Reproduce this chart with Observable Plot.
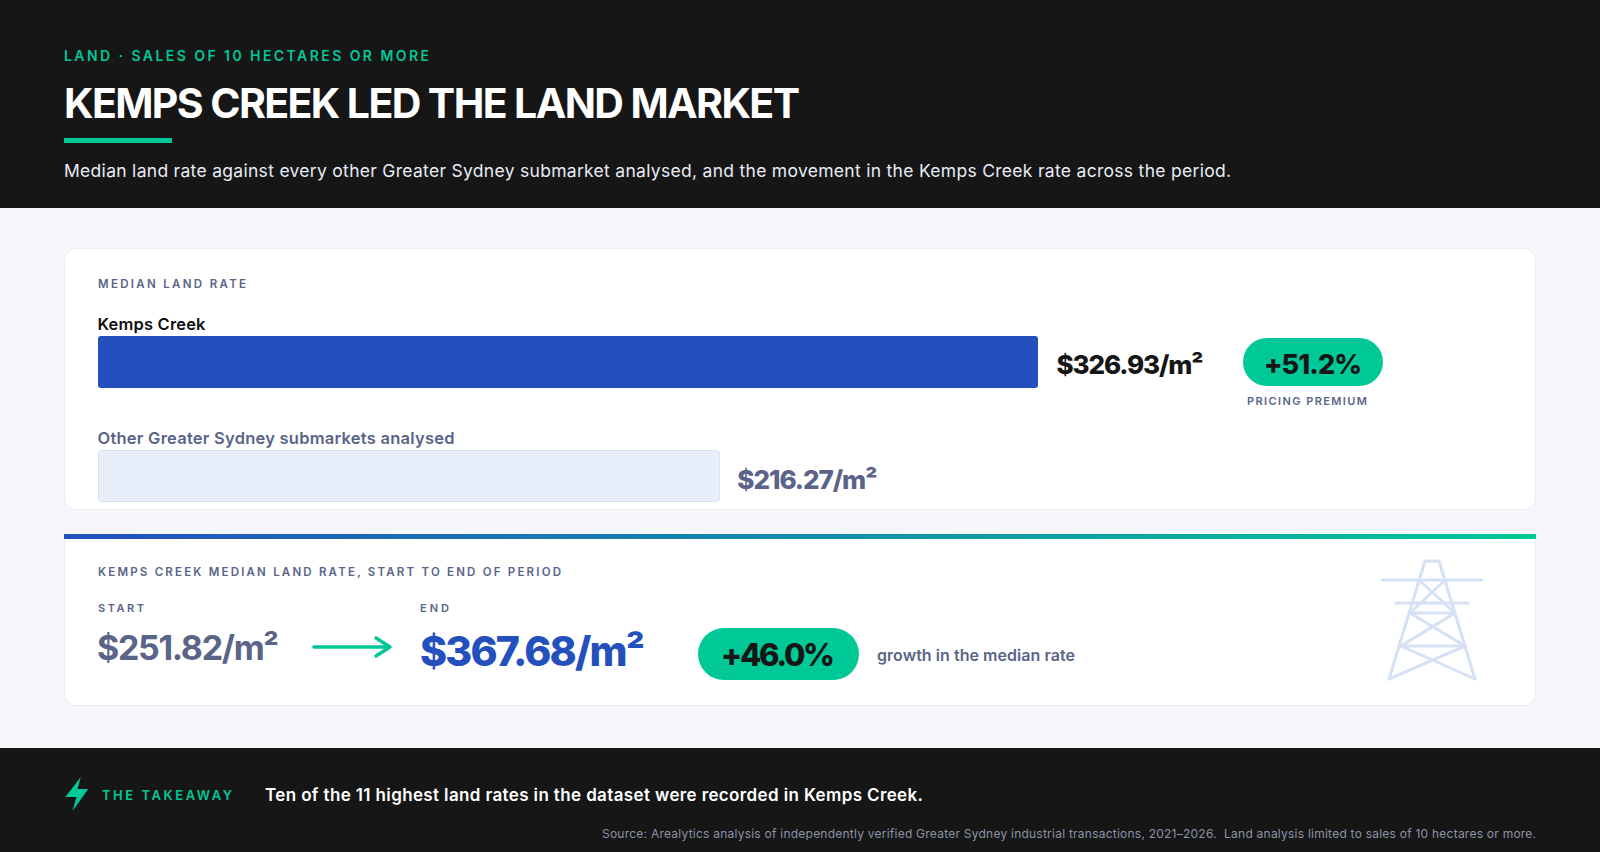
<!DOCTYPE html>
<html><head><meta charset="utf-8">
<script src="https://cdn.jsdelivr.net/npm/d3@7"></script>
<script src="https://cdn.jsdelivr.net/npm/@observablehq/plot@0.6"></script>
<style>
html,body{margin:0;padding:0;width:1600px;height:852px;overflow:hidden;background:#f4f6fa;font-family:Inter,"Noto Sans",sans-serif}
#page{position:relative;width:1600px;height:852px;overflow:hidden}
.box{position:absolute;box-sizing:border-box}
.t{position:absolute;white-space:pre;transform:translateY(-50%);line-height:1.2}
#chart{position:absolute;left:0;top:0}
</style></head><body><div id="page"></div>
<script>
// ---- data ----
const categories = ["Kemps Creek", "Other Greater Sydney submarkets analysed"];
const medianRates = [326.93, 216.27];
const premiumPct = 51.2;
const startRate = 251.82;
const endRate = 367.68;
const growthPct = 46.0;
// ---- text ----
const eyebrow = "LAND · SALES OF 10 HECTARES OR MORE";
const headline = "KEMPS CREEK LED THE LAND MARKET";
const subtitle = "Median land rate against every other Greater Sydney submarket analysed, and the movement in the Kemps Creek rate across the period.";
const sectionA = "MEDIAN LAND RATE";
const sectionB = "KEMPS CREEK MEDIAN LAND RATE, START TO END OF PERIOD";
const takeawayLabel = "THE TAKEAWAY";
const takeaway = "Ten of the 11 highest land rates in the dataset were recorded in Kemps Creek.";
const source = "Source: Arealytics analysis of independently verified Greater Sydney industrial transactions, 2021–2026.  Land analysis limited to sales of 10 hectares or more.";

const INK="#161616", GREEN="#00c896", BLUE="#2450be", SLATE="#5a6488", PALE="#e8eefa", PALEB="#d6e1f6";
const money = v => "$"+v.toFixed(2)+"/m²";
const page = document.getElementById("page");

function box(x,y,w,h,css){const d=document.createElement("div");d.className="box";
  d.style.cssText=`left:${x}px;top:${y}px;width:${w}px;height:${h}px;${css||""}`;page.appendChild(d);return d;}
const fits=[];
function text(s,x,y,size,weight,color,w){const d=document.createElement("div");d.className="t";d.textContent=s;
  d.style.cssText=`left:${x}px;top:${y}px;font-size:${size}px;font-weight:${weight};color:${color};`;
  page.appendChild(d);if(w)fits.push([d,w,s.length]);return d;}

// header / footer
box(0,0,1600,208,`background:${INK}`);
box(0,748,1600,104,`background:${INK}`);
box(64,138,108,5,`background:${GREEN}`);
// cards
box(64,248,1472,262,"background:#fff;border:1px solid #e9edf5;border-radius:12px");
box(64,534,1472,172,"background:#fff;border:1px solid #e9edf5;border-top:0;border-radius:0 0 12px 12px");
box(64,534,1472,5,`background:linear-gradient(90deg,${BLUE},${GREEN})`);
// pills
box(1243,338,140,48,`background:${GREEN};border-radius:24px`);
box(698,628,161,52,`background:${GREEN};border-radius:26px`);

// header text
text(eyebrow,64,56,14,600,GREEN,365);
text(headline,64,104,41,700,"#fff",736);
text(subtitle,64,169.5,17.5,400,"#e8ecf6",1167);
// card text
text(sectionA,98,284.5,11.5,600,SLATE,148);
text("+"+premiumPct.toFixed(1)+"%",1264,365,27,800,INK,98);
text("PRICING PREMIUM",1247,402,11,600,SLATE,120);
text(sectionB,98,573,11.5,600,SLATE,463);
text("START",98,609,11,600,SLATE,46);
text("END",420,609,11,600,SLATE,29);
text(money(startRate),97,648,34,700,SLATE,182);
text(money(endRate),420,652,41,800,BLUE,225);
text("+"+growthPct.toFixed(1)+"%",721,655,31,800,INK,114);
text("growth in the median rate",877,656,16,600,SLATE,198);
// footer text
text(takeawayLabel,102,796,13,600,GREEN,130);
text(takeaway,265,795,17,600,"#fff",658);
text(source,602,834,12,400,"#8c93a8",934);

// icons (decorative)
const ns='xmlns="http://www.w3.org/2000/svg"';
const ic=document.createElement("div");ic.style.cssText="position:absolute;left:0;top:0;width:1600px;height:852px;pointer-events:none";
ic.innerHTML=`<svg ${ns} width="1600" height="852" style="position:absolute;left:0;top:0">
<path d="M314 647H389M376 638L390 647L376 656" fill="none" stroke="${GREEN}" stroke-width="3.5" stroke-linecap="round" stroke-linejoin="round"/>
<path d="M80.8 777L65.3 797L76.5 797L72.4 811L88.3 789L77.5 789Z" fill="${GREEN}"/>
<g fill="none" stroke="#d6e1f6" stroke-width="3" stroke-linecap="round" stroke-linejoin="round">
<path d="M1389 679L1425 561H1439L1475 679"/>
<path d="M1382 580H1482M1396 603H1468"/>
<path d="M1419 580L1455 613M1445 580L1410 613M1411 613H1453"/>
<path d="M1410 613L1465 646M1455 613L1401 646M1401 646H1465"/>
<path d="M1401 646L1475 679M1465 646L1389 679"/>
</g></svg>`;
page.appendChild(ic);

// chart
const rows = categories.map((name,i)=>({name,rate:medianRates[i]}));
const labelFill=[ "#111111", SLATE ], valueFill=[ "#161616", SLATE ];
const chart = Plot.plot({
  width:1600,height:852,margin:0,
  style:{background:"transparent",fontFamily:"Inter, 'Noto Sans', sans-serif",overflow:"visible"},
  x:{domain:[0,medianRates[0]],range:[98,1038],axis:null},
  y:{domain:categories,range:[336,502],paddingInner:0.5439,paddingOuter:0,axis:null},
  marks:[
    ...rows.map((r,i)=>Plot.barX([r],{x:"rate",y:"name",fill:i?PALE:BLUE,stroke:i?PALEB:"none",strokeWidth:1,rx:3,inset:i?0.5:0})),
    ...rows.map((r,i)=>Plot.text([r],{x:()=>0,y:"name",text:"name",textAnchor:"start",dx:-1,dy:-38,fontSize:16.5,fontWeight:600,fill:labelFill[i]})),
    ...rows.map((r,i)=>Plot.text([r],{x:"rate",y:"name",text:d=>money(d.rate),textAnchor:"start",dx:i?17:18,dy:i?4:3,fontSize:26,fontWeight:800,fill:valueFill[i]}))
  ]
});
chart.id="chart";
page.appendChild(chart);

// match the measured text widths of the reference
function fitAll(){
  fits.forEach(([d,w,n])=>{d.style.letterSpacing="0";const cur=d.getBoundingClientRect().width;d.style.letterSpacing=((w-cur)/(n-1)).toFixed(3)+"px";});
  const svgW=new Map([[categories[0],108],[categories[1],357],[money(medianRates[0]),147],[money(medianRates[1]),140]]);
  chart.querySelectorAll("text").forEach(t=>{const w=svgW.get(t.textContent);if(!w)return;
    t.style.letterSpacing="0";const cur=t.getComputedTextLength();t.style.letterSpacing=((w-cur)/(t.textContent.length-1)).toFixed(3)+"px";});
}
fitAll();
</script></body></html>
